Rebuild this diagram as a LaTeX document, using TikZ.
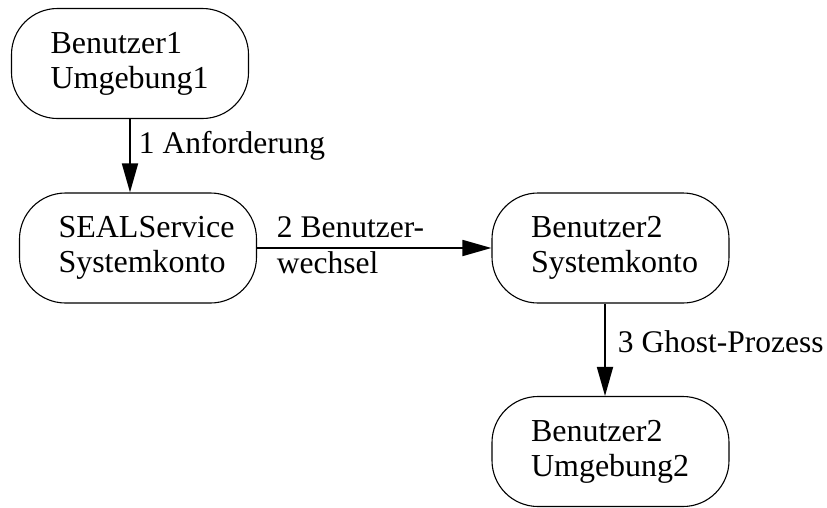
\documentclass[tikz,border=0pt]{standalone}
\usepackage{fontspec}
\setmainfont{Liberation Serif}
\usetikzlibrary{arrows.meta}
\begin{document}
\begin{tikzpicture}[x=1pt,y=-1pt,
  state/.style={draw, line width=1.1pt, rounded corners=46pt, align=left,
    text width=159pt, inner xsep=39pt, inner ysep=0pt, minimum height=110pt,
    font=\fontsize{32}{35}\selectfont},
  flow/.style={line width=1.8pt, -{Triangle[length=29pt,width=16pt]}},
  lbl/.style={font=\fontsize{31.5}{36}\selectfont, inner sep=0pt, align=left}]
\useasboundingbox (0,0) rectangle (827,507);

% states
\node[state] (n1) at (130,63.5)  {Benutzer1\\Umgebung1};
\node[state] (n2) at (138,248)   {SEALService\\Systemkonto};
\node[state] (n3) at (610.5,248) {Benutzer2\\Systemkonto};
\node[state] (n4) at (610.5,451.5) {Benutzer2\\Umgebung2};

% transitions
\draw[flow] (n1.south) -- (n1.south |- n2.north)
  node[lbl, pos=0.47, anchor=base west, xshift=8pt] {1 Anforderung};
\draw[flow] (n2.east) -- (n3.west)
  node[lbl, pos=0, anchor=west, xshift=19pt, yshift=3pt] {2 Benutzer-\\wechsel};
\draw[flow] ([xshift=-5.5pt]n3.south) -- ([xshift=-5.5pt]n4.north)
  node[lbl, pos=0.53, anchor=base west, xshift=12pt] {3 Ghost-Prozess};
\end{tikzpicture}
\end{document}
